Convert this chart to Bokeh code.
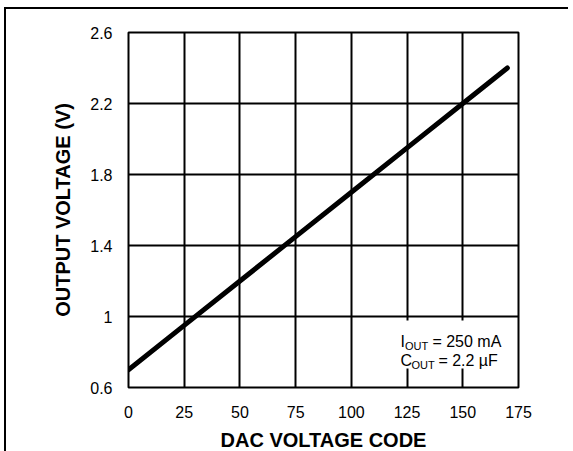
from bokeh.plotting import figure
from bokeh.models import (FixedTicker, CustomJSTickFormatter, Label, BoxAnnotation,
                          ColumnDataSource, Range1d)
from bokeh.embed import file_html
from bokeh.resources import INLINE

# ---- data ----
dac_code = [0, 25, 50, 75, 100, 125, 150, 170]
output_voltage = [0.70, 0.95, 1.20, 1.45, 1.70, 1.95, 2.20, 2.40]

x_ticks = [0, 25, 50, 75, 100, 125, 150, 175]
y_ticks = [0.6, 1, 1.4, 1.8, 2.2, 2.6]

x_title = "DAC VOLTAGE CODE"
y_title = "OUTPUT VOLTAGE (V)"
note_line1 = ("I", "OUT", "= 250 mA")
note_line2 = ("C", "OUT", "= 2.2 µF")

FONT = "Liberation Sans"

p = figure(width=564, height=439, output_backend="svg", toolbar_location=None,
           x_range=Range1d(0, 175), y_range=Range1d(0.6, 2.6),
           min_border_left=122, min_border_right=52, min_border_top=23, min_border_bottom=61,
           frame_width=390, frame_height=355)

p.styles = {"box-shadow": "-2px -2px 0 0 black", "margin-left": "6px", "margin-top": "9px"}

p.outline_line_color = "black"
p.outline_line_width = 2
p.background_fill_color = "white"
p.border_fill_color = "white"

p.xaxis.ticker = FixedTicker(ticks=x_ticks)
p.yaxis.ticker = FixedTicker(ticks=y_ticks)
p.yaxis.formatter = CustomJSTickFormatter(code="return tick.toString();")

for ax in (p.xaxis[0], p.yaxis[0]):
    ax.axis_line_color = None
    ax.major_tick_line_color = None
    ax.minor_tick_line_color = None
    ax.major_label_text_font = FONT
    ax.major_label_text_font_size = "16px"
    ax.major_label_text_color = "black"
    ax.axis_label_text_font = FONT
    ax.axis_label_text_font_size = "20px"
    ax.axis_label_text_font_style = "bold"
    ax.axis_label_text_color = "black"

p.xaxis.axis_label = x_title
p.yaxis.axis_label = y_title
p.xaxis.major_label_standoff = 12
p.yaxis.major_label_standoff = 10
p.xaxis.axis_label_standoff = 8
p.yaxis.axis_label_standoff = 13

p.xgrid.grid_line_color = "black"
p.ygrid.grid_line_color = "black"
p.xgrid.grid_line_width = 2
p.ygrid.grid_line_width = 2
p.xgrid.grid_line_alpha = 1
p.ygrid.grid_line_alpha = 1

src = ColumnDataSource(data=dict(x=dac_code, y=output_voltage))
p.line("x", "y", source=src, line_color="black", line_width=5, line_cap="round")

# white box behind the note
p.add_layout(BoxAnnotation(left=119.8, right=172.3, bottom=0.707, top=0.977,
                           fill_color="white", fill_alpha=1, line_color=None))

def note(x, y, parts, sub_dx, rest_dx):
    main, sub, rest = parts
    p.add_layout(Label(x=x, y=y, text=main, text_font=FONT, text_font_size="16px",
                       text_baseline="alphabetic", text_color="black"))
    p.add_layout(Label(x=x, y=y, x_offset=sub_dx, y_offset=-4, text=sub, text_font=FONT,
                       text_font_size="11px", text_baseline="alphabetic", text_color="black"))
    p.add_layout(Label(x=x, y=y, x_offset=rest_dx, text=rest, text_font=FONT,
                       text_font_size="16px", text_baseline="alphabetic", text_color="black"))

note(122, 0.859, note_line1, 4.5, 32)
note(122, 0.752, note_line2, 11, 38)

open("out.html", "w").write(file_html(p, INLINE))
